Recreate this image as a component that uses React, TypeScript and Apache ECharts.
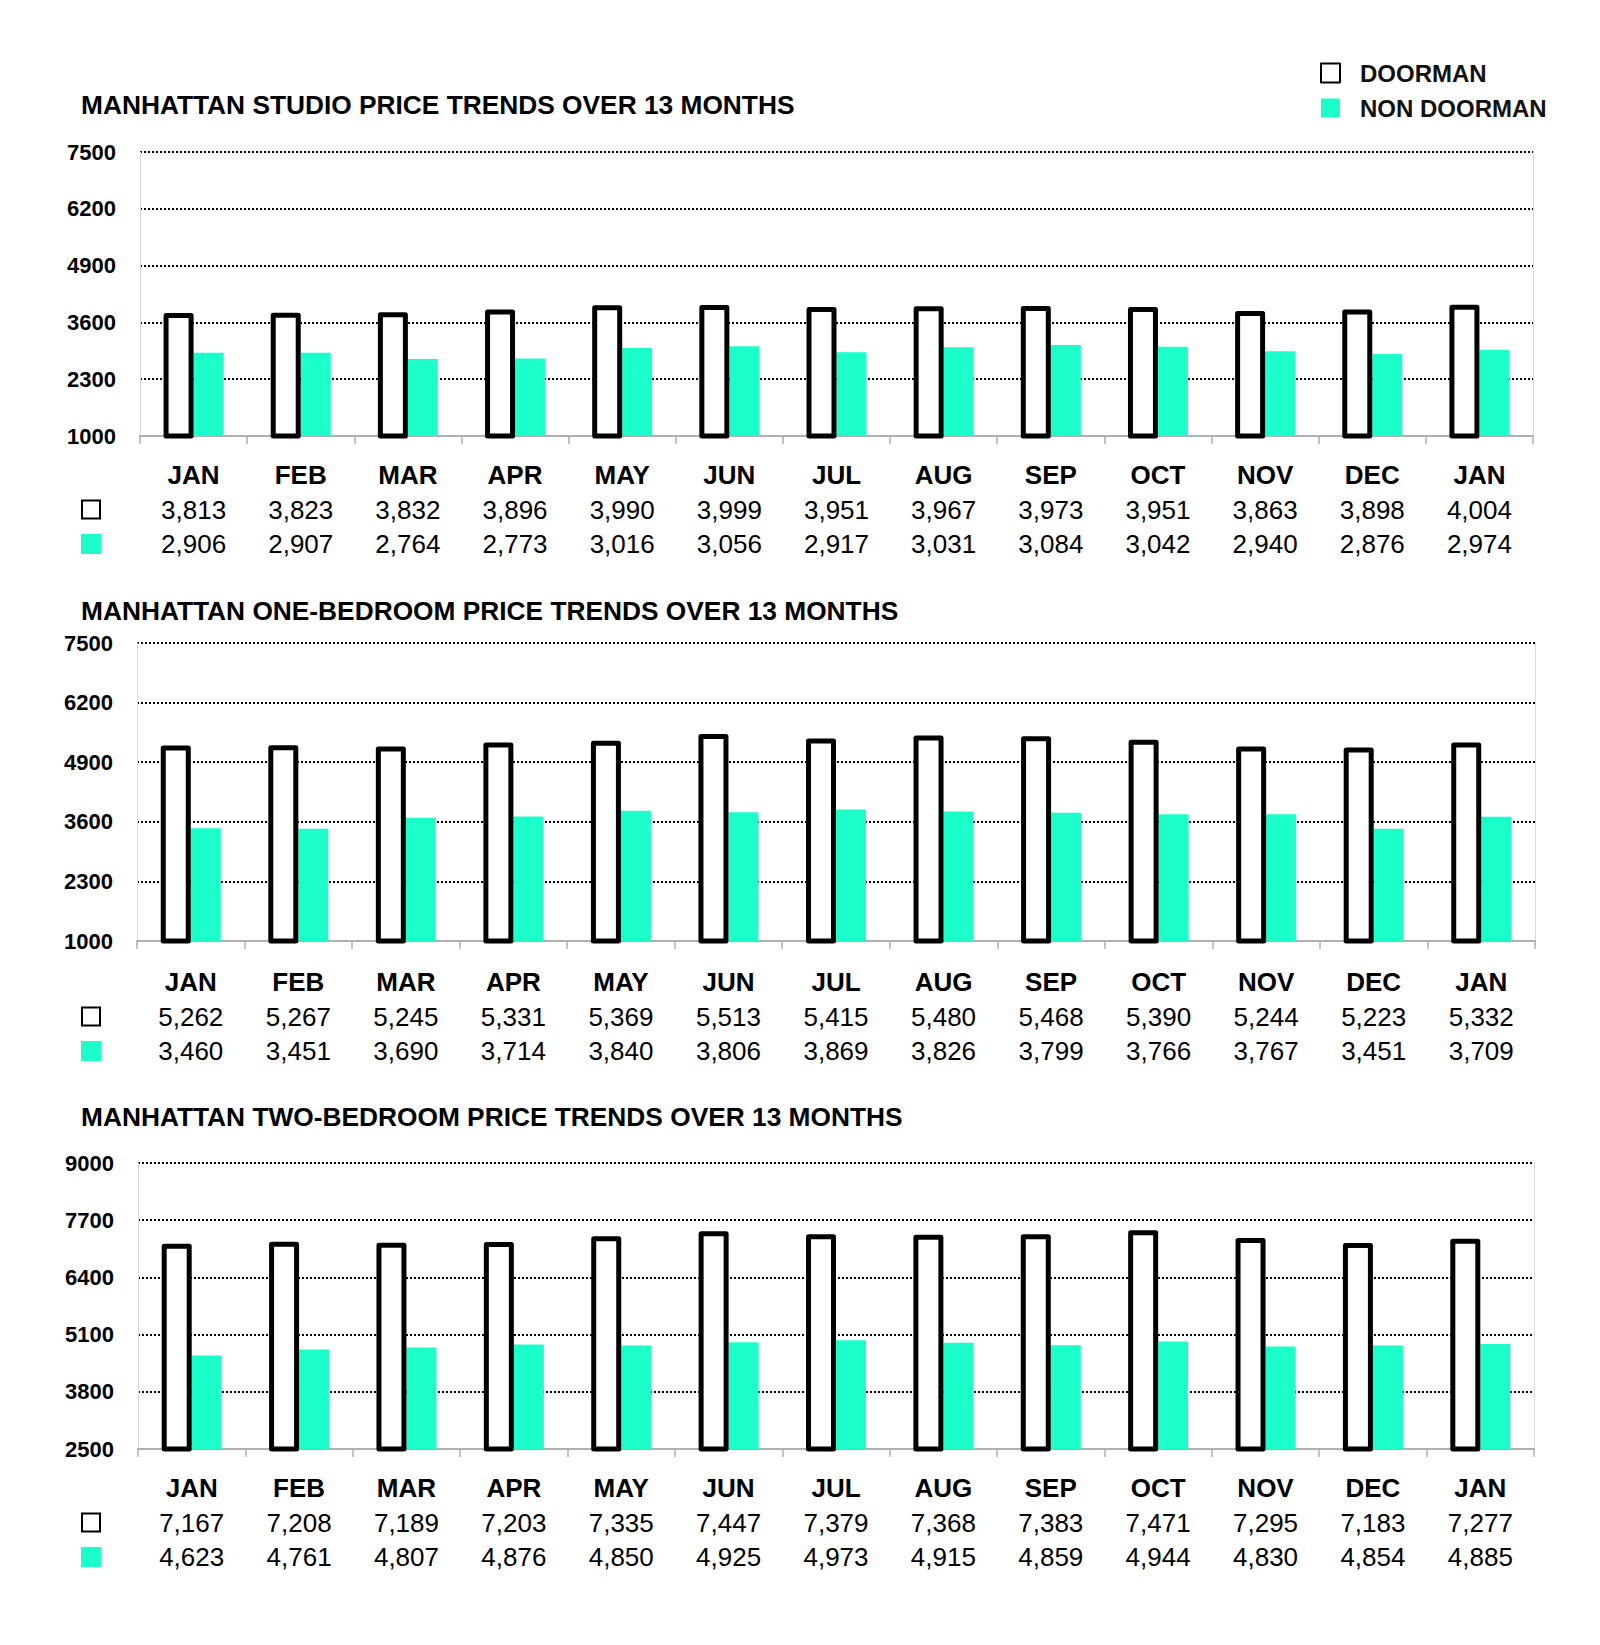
import React, { useEffect, useRef } from "react";
import * as echarts from "echarts";

const months = ["JAN", "FEB", "MAR", "APR", "MAY", "JUN", "JUL", "AUG", "SEP", "OCT", "NOV", "DEC", "JAN"];

const studioDoorman = [3813, 3823, 3832, 3896, 3990, 3999, 3951, 3967, 3973, 3951, 3863, 3898, 4004];
const studioNonDoorman = [2906, 2907, 2764, 2773, 3016, 3056, 2917, 3031, 3084, 3042, 2940, 2876, 2974];
const oneBedDoorman = [5262, 5267, 5245, 5331, 5369, 5513, 5415, 5480, 5468, 5390, 5244, 5223, 5332];
const oneBedNonDoorman = [3460, 3451, 3690, 3714, 3840, 3806, 3869, 3826, 3799, 3766, 3767, 3451, 3709];
const twoBedDoorman = [7167, 7208, 7189, 7203, 7335, 7447, 7379, 7368, 7383, 7471, 7295, 7183, 7277];
const twoBedNonDoorman = [4623, 4761, 4807, 4876, 4850, 4925, 4973, 4915, 4859, 4944, 4830, 4854, 4885];

const titles = [
  "MANHATTAN STUDIO PRICE TRENDS OVER 13 MONTHS",
  "MANHATTAN ONE-BEDROOM PRICE TRENDS OVER 13 MONTHS",
  "MANHATTAN TWO-BEDROOM PRICE TRENDS OVER 13 MONTHS",
];
const yMins = [1000, 1000, 2500];
const yMaxs = [7500, 7500, 9000];
const yIntervals = [1300, 1300, 1300];

const TEAL = "#1cffca";
const FONT = "'Liberation Sans', Arial, sans-serif";

const layouts = [
  { left: 140, right: 67, top: 152, height: 284, titleTop: 92, labelMargin: 21.75 },
  { left: 137, right: 65, top: 643, height: 298, titleTop: 598, labelMargin: 23.75 },
  { left: 138, right: 66, top: 1163, height: 286, titleTop: 1104, labelMargin: 21.75 },
];

const fmt = (v: number) => v.toLocaleString("en-US");

export default function App() {
  const ref = useRef<HTMLDivElement>(null);
  useEffect(() => {
    if (!ref.current) return;
    const chart = echarts.init(ref.current, undefined, { renderer: "svg" });
    const doormanSets = [studioDoorman, oneBedDoorman, twoBedDoorman];
    const nonSets = [studioNonDoorman, oneBedNonDoorman, twoBedNonDoorman];

    const grids: any[] = [];
    const xAxes: any[] = [];
    const yAxes: any[] = [];
    const series: any[] = [];
    const titleArr: any[] = [];
    const graphics: any[] = [];

    layouts.forEach((L, i) => {
      grids.push({ left: L.left, right: L.right, top: L.top, height: L.height, containLabel: false });
      titleArr.push({
        text: titles[i],
        left: 81,
        top: L.titleTop,
        padding: 0,
        textStyle: { fontFamily: FONT, fontWeight: "bold", fontSize: 26.3, lineHeight: 26, color: "#000" },
      });
      const d = doormanSets[i];
      const n = nonSets[i];
      xAxes.push({
        type: "category",
        gridIndex: i,
        data: months,
        boundaryGap: true,
        axisLine: { show: true, lineStyle: { color: "#b0b0b0", width: 2 } },
        axisTick: { show: true, length: 8, lineStyle: { color: "#b0b0b0", width: 1.5 } },
        axisLabel: {
          interval: 0,
          margin: L.labelMargin,
          formatter: (value: string, idx: number) =>
            `{m|${value}}\n{a|${fmt(d[idx])}}\n{b|${fmt(n[idx])}}`,
          rich: {
            m: { fontFamily: FONT, fontWeight: "bold", fontSize: 26, lineHeight: 34.5, color: "#000" },
            a: { fontFamily: FONT, fontSize: 26, lineHeight: 34.5, color: "#000" },
            b: { fontFamily: FONT, fontSize: 26, lineHeight: 34.5, color: "#000" },
          },
        },
        splitLine: { show: false },
      });
      yAxes.push({
        type: "value",
        gridIndex: i,
        min: yMins[i],
        max: yMaxs[i],
        interval: yIntervals[i],
        axisLine: { show: true, lineStyle: { color: "#dadada", width: 1 } },
        axisTick: { show: false },
        axisLabel: {
          margin: 24,
          fontFamily: FONT,
          fontWeight: "bold",
          fontSize: 22,
          color: "#000",
          formatter: (v: number) => String(v),
        },
        splitLine: { show: true, lineStyle: { color: "#000", width: 1.8, type: [2, 2] } },
      });
      yAxes.push({
        type: "value",
        gridIndex: i,
        position: "right",
        min: yMins[i],
        max: yMaxs[i],
        interval: yIntervals[i],
        axisLine: { show: true, lineStyle: { color: "#dadada", width: 1 } },
        axisTick: { show: false },
        axisLabel: { show: false },
        splitLine: { show: false },
      });
      series.push({
        name: "DOORMAN",
        type: "bar",
        xAxisIndex: i,
        yAxisIndex: i * 2,
        data: d,
        barWidth: 30,
        barGap: "0%",
        itemStyle: { color: "#fff", borderColor: "#000", borderWidth: 5, borderJoin: "round" },
        z: 3,
      });
      series.push({
        name: "NON DOORMAN",
        type: "bar",
        xAxisIndex: i,
        yAxisIndex: i * 2,
        data: n,
        barWidth: 30,
        barGap: "0%",
        itemStyle: { color: TEAL },
        z: 2,
      });
      const rowCenter1 = L.top + L.height + L.labelMargin + 34.5 * 1.5;
      const rowCenter2 = rowCenter1 + 34.5;
      graphics.push({
        type: "rect",
        shape: { x: 82, y: rowCenter1 - 9, width: 18, height: 18 },
        style: { fill: "#fff", stroke: "#000", lineWidth: 2 },
      });
      graphics.push({
        type: "rect",
        shape: { x: 81, y: rowCenter2 - 10, width: 20, height: 20 },
        style: { fill: TEAL },
      });
    });

    chart.setOption({
      animation: false,
      backgroundColor: "#fff",
      title: titleArr,
      legend: {
        orient: "vertical",
        left: 1320,
        top: 61,
        padding: 0,
        itemWidth: 19,
        itemHeight: 19,
        itemGap: 11,
        icon: "rect",
        selectedMode: false,
        data: [
          { name: "DOORMAN", itemStyle: { color: "#fff", borderColor: "#000", borderWidth: 2 } },
          { name: "NON DOORMAN", itemStyle: { color: TEAL, borderWidth: 0 } },
        ],
        textStyle: {
          fontFamily: FONT,
          fontWeight: "bold",
          fontSize: 24,
          color: "#111",
          padding: [0, 0, 0, 15],
        },
      },
      grid: grids,
      xAxis: xAxes,
      yAxis: yAxes,
      series,
      graphic: graphics,
    });
    return () => chart.dispose();
  }, []);
  return (
    <div
      ref={ref}
      style={{ position: "absolute", left: 0, top: 0, width: 1600, height: 1645, background: "#fff" }}
    />
  );
}
